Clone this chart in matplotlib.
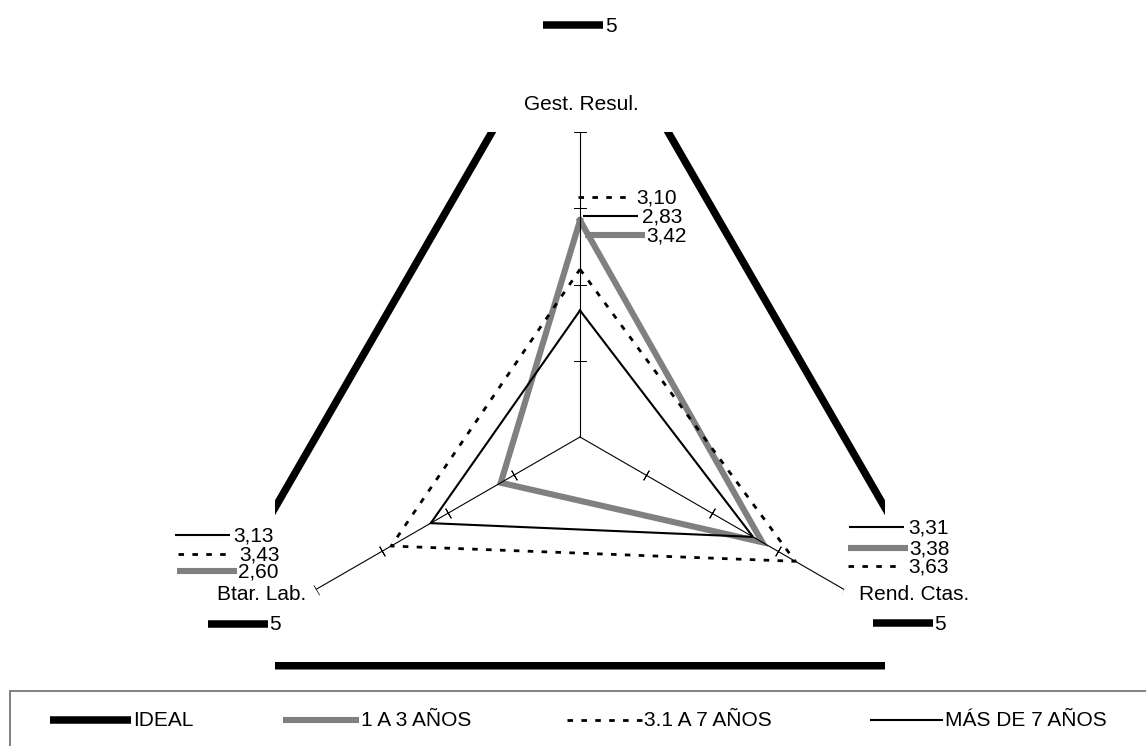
import matplotlib
matplotlib.use("Agg")
import matplotlib.pyplot as plt
import numpy as np
from matplotlib.lines import Line2D
from matplotlib.patches import Rectangle

plt.rcParams["font.family"] = ["Liberation Sans", "DejaVu Sans"]

# datos
categorias = ["Gest. Resul.", "Rend. Ctas.", "Btar. Lab."]
series = ["IDEAL", "1 A 3 AÑOS", "3.1 A 7 AÑOS", "MÁS DE 7 AÑOS"]
ideal = [5, 5, 5]
anios_1_3 = [3.42, 3.38, 2.60]
anios_3_7 = [3.10, 3.63, 3.43]
mas_7 = [2.83, 3.31, 3.13]
eje_min, eje_max = 2, 4
ticks_eje = [2.5, 3, 3.5, 4]

valores = [ideal, anios_1_3, anios_3_7, mas_7]

estilos = [
    dict(color="black", lw=5.4, ls="-"),
    dict(color="#808080", lw=4.4, ls="-"),
    dict(color="black", lw=2.0, ls=(0, (2.0, 3.0))),
    dict(color="black", lw=1.5, ls="-"),
]

W, H = 1146, 746


def px(x, y):
    return x / W, 1 - y / H


fig = plt.figure(figsize=(W / 100, H / 100), dpi=100)

# area polar: centro en (580, 437), radio 305 px
ax = fig.add_axes([275 / W, 4 / H, 610 / W, 610 / H], projection="polar")
ax.set_theta_zero_location("N")
ax.set_theta_direction(-1)
ax.set_ylim(eje_min, eje_max)
ax.set_axis_off()

angulos = np.deg2rad(np.arange(len(categorias)) * 360 / len(categorias))
angulos_cerrado = np.append(angulos, angulos[0])

clip = Rectangle((0, 0), 1, 1, transform=ax.transAxes)
for vals, est in zip(valores, estilos):
    linea, = ax.plot(angulos_cerrado, vals + vals[:1], color=est["color"],
                     lw=est["lw"], linestyle=est["ls"], solid_joinstyle="miter")
    linea.set_clip_path(clip)

# ejes radiales con marcas
for t in angulos:
    phi = 90 - np.rad2deg(t)
    ax.plot([t, t], [eje_min, eje_max], color="black", lw=0.8, zorder=5)
    ax.plot([t] * len(ticks_eje), ticks_eje, ls="none", marker=(2, 2, phi),
            ms=8, mew=0.7, color="black", zorder=5)

# etiquetas de categoria
fig.text(*px(581, 104), categorias[0], ha="center", va="center", fontsize=15)
fig.text(*px(859, 594), categorias[1], ha="left", va="center", fontsize=15)
fig.text(*px(306, 595), categorias[2], ha="right", va="center", fontsize=15)

# etiquetas de datos con clave: (serie, x0, x1, y, x_texto)
etiquetas = {
    0: [(0, 543, 603, 25, 605), (2, 578, 630, 197, 636), (3, 583, 638, 216, 642),
        (1, 585, 645, 235, 646)],
    1: [(3, 849, 904, 527, 908), (1, 848, 908, 548, 909), (2, 848, 902, 566, 908),
        (0, 873, 933, 623, 934)],
    2: [(3, 175, 230, 535, 233), (2, 178, 232, 554, 239), (1, 177, 237, 571, 238),
        (0, 208, 268, 624, 269)],
}


def clave(x0, x1, y, est):
    a, b = px(x0, y), px(x1, y)
    fig.add_artist(Line2D([a[0], b[0]], [a[1], b[1]], transform=fig.transFigure,
                          color=est["color"], lw=est["lw"], linestyle=est["ls"],
                          solid_capstyle="butt", dash_capstyle="butt"))


for cat, filas in etiquetas.items():
    for s, x0, x1, y, xt in filas:
        clave(x0, x1, y, estilos[s])
        v = valores[s][cat]
        txt = f"{v:g}" if s == 0 else f"{v:.2f}".replace(".", ",")
        fig.text(*px(xt, y + 1), txt, ha="left", va="center", fontsize=15)

# leyenda
fig.add_artist(Rectangle(px(10, 760), (W + 20) / W, 69 / H, transform=fig.transFigure,
                         fill=False, edgecolor="#777777", lw=1.3))
claves_leyenda = [(50, 131), (283, 359), (567, 642), (870, 943)]
for nombre, (x0, x1), est in zip(series, claves_leyenda, estilos):
    clave(x0, x1, 720, est)
    fig.text(*px(x1 + 2, 721), nombre, ha="left", va="center", fontsize=15)

fig.savefig("out.png", dpi=100)
